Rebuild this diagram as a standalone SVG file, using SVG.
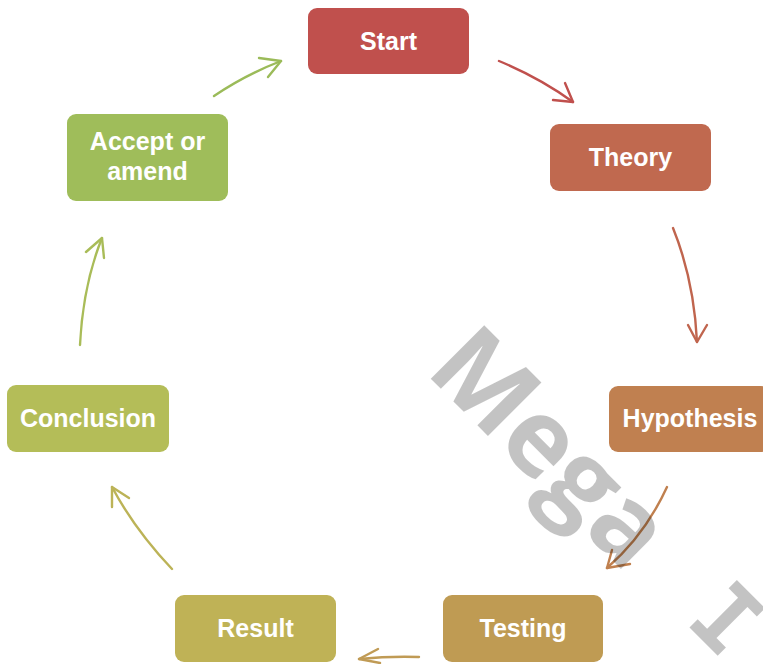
<svg xmlns="http://www.w3.org/2000/svg" width="763" height="664" viewBox="0 0 763 664">
<style>
.box{stroke:none}
.lbl{font-family:"Liberation Sans",Arial,sans-serif;font-weight:bold;font-size:25px;fill:#ffffff;text-anchor:middle}
.arr{fill:none;stroke-width:2.4;stroke-linecap:round;stroke-linejoin:round}
.wm{font-family:"Open Sans","DejaVu Sans",sans-serif;font-weight:bold;fill:#000000;fill-opacity:0.235}
</style>
<rect width="763" height="664" fill="#ffffff"/>
<g id="connectors">
<g stroke="#c0504d" class="arr"><path d="M499,61 Q540,78 573,102"/><polyline points="553,100 573,102 565,83"/></g>
<g stroke="#c0654e" class="arr"><path d="M673,228 Q694,280 697,342"/><polyline points="688,325 697,342 707,325"/></g>
<g stroke="#c0804f" class="arr"><path d="M667,487 Q645,535 607,568"/><polyline points="612,550 607,568 630,564"/></g>
<g stroke="#c09b55" class="arr"><path d="M419,657 Q390,656 359,659"/><polyline points="378,649 359,659 380,663"/></g>
<g stroke="#bcb357" class="arr"><path d="M172,569 Q135,530 112,487"/><polyline points="112,507 112,487 129,498"/></g>
<g stroke="#a9bc58" class="arr"><path d="M80,345 Q83,285 102,238"/><polyline points="86,252 102,238 104,258"/></g>
<g stroke="#9bbb59" class="arr"><path d="M214,96 Q245,75 281,61"/><polyline points="259,58 281,61 268,77"/></g>
</g>
<g id="start"><rect class="box" x="308" y="8" width="161" height="66" rx="9" fill="#c0504d"/><text class="lbl" x="388.5" y="50">Start</text></g>
<g id="theory"><rect class="box" x="550" y="124" width="161" height="67" rx="9" fill="#c0694f"/><text class="lbl" x="630.5" y="166">Theory</text></g>
<g id="hypothesis"><rect class="box" x="609" y="386" width="161" height="66" rx="9" fill="#c08050"/><text class="lbl" x="690" y="427">Hypothesis</text></g>
<g id="testing"><rect class="box" x="443" y="595" width="160" height="67" rx="9" fill="#bf9b53"/><text class="lbl" x="523" y="637">Testing</text></g>
<g id="result"><rect class="box" x="175" y="595" width="161" height="67" rx="9" fill="#bfb256"/><text class="lbl" x="255.5" y="637">Result</text></g>
<g id="conclusion"><rect class="box" x="7" y="385" width="162" height="67" rx="9" fill="#b4bd58"/><text class="lbl" x="88" y="427">Conclusion</text></g>
<g id="accept"><rect class="box" x="67" y="114" width="161" height="87" rx="9" fill="#9fbd5a"/><text class="lbl" x="147.5" y="150">Accept or</text><text class="lbl" x="147.5" y="180">amend</text></g>
<g id="watermark">
<text class="wm" font-size="106" transform="translate(424,372) rotate(45)">Mega</text>
<text font-family="DejaVu Sans Mono,monospace" font-weight="bold" font-size="92" fill="#000000" fill-opacity="0.235" transform="translate(684,622) rotate(45)">I</text>
</g>
</svg>
